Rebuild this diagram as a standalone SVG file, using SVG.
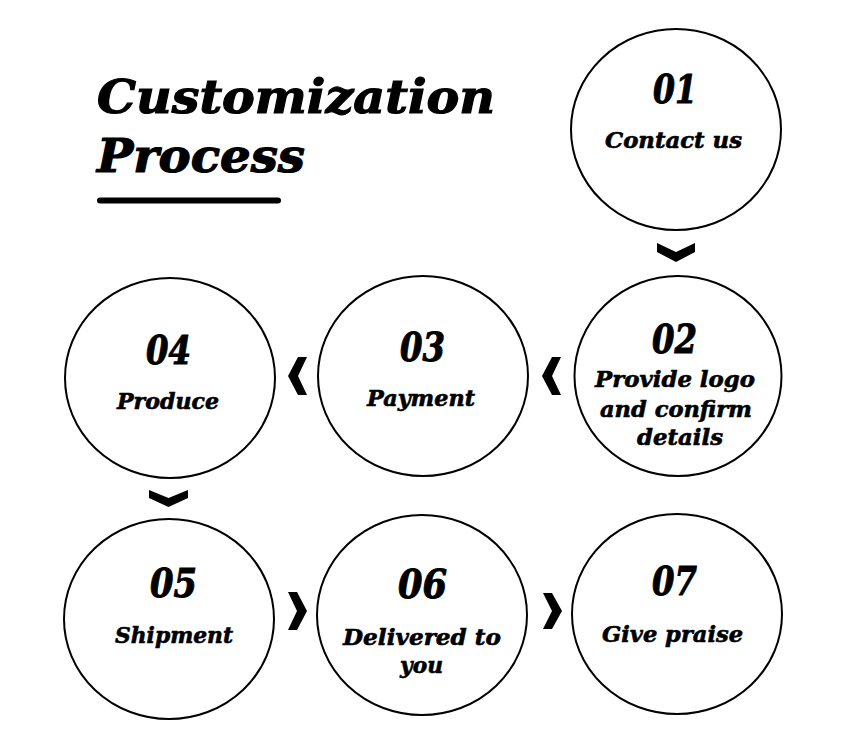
<svg xmlns="http://www.w3.org/2000/svg" width="857" height="746" viewBox="0 0 857 746">
<style>
.c{fill:none;stroke:#000;stroke-width:2}
text{font-family:"DejaVu Serif","Liberation Serif",serif;font-weight:bold;font-style:italic;fill:#000;stroke:#000;stroke-width:0.6;text-anchor:middle}
.t{font-size:47px;text-anchor:start;stroke-width:1.2}
.n{font-size:39px;stroke-width:1}
.l{font-size:22px}
.ch{fill:#000}
</style>
<rect width="857" height="746" fill="#fff"/>
<g id="title">
<text class="t" x="97" y="113" textLength="398" lengthAdjust="spacingAndGlyphs">Customization</text>
<text class="t" x="97" y="172" textLength="208" lengthAdjust="spacingAndGlyphs">Process</text>
<line x1="100" y1="200.5" x2="278" y2="200.5" stroke="#000" stroke-width="6" stroke-linecap="round"/>
</g>
<g id="n01">
<ellipse class="c" cx="676" cy="129.5" rx="105" ry="100.5"/>
<text class="n" x="675" y="103" textLength="44" lengthAdjust="spacingAndGlyphs">01</text>
<text class="l" x="673.5" y="148" textLength="137" lengthAdjust="spacingAndGlyphs">Contact us</text>
</g>
<g id="n02">
<ellipse class="c" cx="678" cy="376" rx="103.5" ry="100"/>
<text class="n" x="674.5" y="353" textLength="45" lengthAdjust="spacingAndGlyphs">02</text>
<text class="l" x="675" y="387" textLength="160" lengthAdjust="spacingAndGlyphs">Provide logo</text>
<text class="l" x="676" y="417" textLength="152" lengthAdjust="spacingAndGlyphs">and confirm</text>
<text class="l" x="680" y="445" textLength="86" lengthAdjust="spacingAndGlyphs">details</text>
</g>
<g id="n03">
<ellipse class="c" cx="423" cy="376" rx="105" ry="100"/>
<text class="n" x="422.5" y="361" textLength="45" lengthAdjust="spacingAndGlyphs">03</text>
<text class="l" x="421" y="406" textLength="108" lengthAdjust="spacingAndGlyphs">Payment</text>
</g>
<g id="n04">
<ellipse class="c" cx="170" cy="378" rx="105" ry="100"/>
<text class="n" x="168.5" y="364" textLength="45" lengthAdjust="spacingAndGlyphs">04</text>
<text class="l" x="168" y="409" textLength="102" lengthAdjust="spacingAndGlyphs">Produce</text>
</g>
<g id="n05">
<ellipse class="c" cx="169" cy="619" rx="105" ry="100"/>
<text class="n" x="173.5" y="597" textLength="47" lengthAdjust="spacingAndGlyphs">05</text>
<text class="l" x="174" y="643" textLength="118" lengthAdjust="spacingAndGlyphs">Shipment</text>
</g>
<g id="n06">
<ellipse class="c" cx="422" cy="615" rx="105" ry="100"/>
<text class="n" x="422.5" y="598" textLength="49" lengthAdjust="spacingAndGlyphs">06</text>
<text class="l" x="422" y="645" textLength="158" lengthAdjust="spacingAndGlyphs">Delivered to</text>
<text class="l" x="421.5" y="673" textLength="43" lengthAdjust="spacingAndGlyphs">you</text>
</g>
<g id="n07">
<ellipse class="c" cx="677" cy="614" rx="105" ry="100"/>
<text class="n" x="674.5" y="595" textLength="45" lengthAdjust="spacingAndGlyphs">07</text>
<text class="l" x="672.5" y="642" textLength="141" lengthAdjust="spacingAndGlyphs">Give praise</text>
</g>
<g id="connectors">
<polygon class="ch" points="657,243 676,252 695,243 695,252 676,262 657,252"/>
<polygon class="ch" points="149,490 168.5,498 188,490 188,498 168.5,507 149,498"/>
<polygon class="ch" points="298,357 307,357 298,376 307,395 298,395 288,376"/>
<polygon class="ch" points="552,357 561,357 552,376 561,395 552,395 542,376"/>
<polygon class="ch" points="288,592 297,592 307,611 297,630 288,630 297,611"/>
<polygon class="ch" points="543,593 552,593 562,611 552,629 543,629 552,611"/>
</g>
</svg>
